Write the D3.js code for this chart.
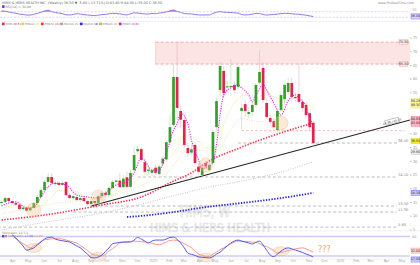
<!DOCTYPE html>
<html>
<head>
<meta charset="utf-8">
<script src="https://cdn.jsdelivr.net/npm/d3@7"></script>
<style>
  body { margin: 0; background: #fff; }
  svg { display: block; font-family: "DejaVu Sans", sans-serif; }
</style>
</head>
<body>
<script>
// weekly candles, first week starts 11 Mar 2024
const firstWeek = new Date(2024, 2, 11);
const opens = [14.6,15.0,16.4,15.3,14.6,14.0,12.4,12.9,11.9,12.8,
  14.6,16.8,19.3,22.3,24.1,21.5,21.9,21.2,22.3,17.5,
  16.4,16.8,15.7,16.4,15.3,14.2,15.3,14.6,17.1,18.3,
  17.5,20.1,22.3,22.8,20.4,24.0,20.5,26.6,33.5,34.3,
  29.5,26.3,25.6,27.5,25.2,29.0,30.5,36.8,43.1,60.6,
  48.2,44.9,34.7,33.0,35.8,27.9,24.8,29.2,26.6,29.2,
  42.3,55.8,62.8,56.8,56.9,57.7,57.0,48.2,50.7,47.1,
  47.8,50.4,58.5,63.9,51.1,45.6,44.5,41.2,48.5,52.5,
  55.1,58.4,53.3,54.4,51.5,50.4,47.4,43.8];
const highs = [15.6,17.0,16.9,15.8,15.2,14.5,13.4,13.3,13.2,15.0,
  17.5,20.0,23.0,25.6,25.5,22.8,22.6,22.6,22.8,18.2,
  17.8,17.5,17.0,16.9,15.8,15.9,15.8,17.6,18.9,19.0,
  20.8,23.0,23.2,25.6,24.8,26.0,26.5,35.0,35.5,35.0,
  30.3,28.0,27.5,28.5,28.6,31.5,37.5,46.7,65.0,73.0,
  50.0,46.0,36.5,36.0,37.0,29.0,28.2,30.0,29.5,41.5,
  53.0,66.1,64.5,59.0,67.2,59.0,65.0,51.0,52.0,49.5,
  51.5,58.5,70.4,66.0,52.5,47.0,45.5,49.0,55.0,58.5,
  60.2,60.5,55.0,65.4,52.5,51.5,48.0,44.5];
const lows = [14.0,14.6,14.8,14.2,13.5,12.0,11.9,11.3,11.5,12.5,
  14.3,16.5,19.0,21.5,21.2,20.8,20.6,20.8,17.0,16.0,
  15.8,15.2,15.0,14.8,13.6,13.4,13.8,14.2,16.7,17.0,
  17.2,19.6,21.0,20.0,20.0,19.5,20.0,26.0,32.5,29.5,
  25.0,25.2,24.5,24.8,24.5,28.2,30.0,36.0,42.5,44.9,
  42.0,34.5,31.5,32.0,28.5,25.0,24.0,27.0,26.0,28.5,
  41.0,53.5,53.0,55.0,56.0,54.5,56.0,41.5,46.0,45.5,
  46.5,49.5,57.5,51.0,45.0,43.0,41.5,40.5,48.0,50.5,
  54.0,52.0,51.5,50.5,48.0,45.5,41.0,35.0];
const closes = [15.0,16.4,15.3,14.6,14.0,12.4,12.9,11.8,12.8,14.6,
  16.8,19.3,22.3,24.1,21.9,21.9,21.2,21.9,17.5,16.4,
  17.1,15.7,16.4,15.3,14.2,15.3,14.6,17.1,18.3,17.5,
  20.1,22.3,22.8,20.4,23.5,20.5,25.6,32.1,34.3,30.3,
  26.0,26.8,26.6,25.6,27.9,30.8,36.8,42.3,60.6,49.3,
  45.0,35.8,32.8,34.2,29.2,26.0,27.5,27.9,28.5,40.5,
  51.8,64.6,54.7,57.2,57.3,55.8,64.2,49.3,48.2,47.8,
  50.4,57.7,62.4,52.2,46.0,44.2,42.3,48.2,54.0,57.7,
  58.4,53.3,52.9,51.5,49.3,46.7,42.3,36.5];

// moving averages (week index, price)
const fastWeeks = [0,2,4,7,9,11,13,15,18,21,24,27,29,32,35,37,39,40,42,44,46,48,49,50,52,53,55,56,57,59,60,61,62,64,66,67,69,70,71,73,74,76,78,80,82,83,85,86,87];
const fastVals = [13.5,14.6,15.0,12.8,13.1,16.8,20.5,21.9,21.2,17.5,16.8,16.4,18.2,21.2,22.6,25.6,31.0,30.0,26.6,26.6,32.9,41.2,43.5,47.4,43.5,37.6,30.3,27.4,27.4,29.5,36.0,46.7,54.0,56.6,57.7,56.6,54.0,51.5,54.0,57.7,55.8,51.0,46.7,52.0,54.0,52.9,49.6,45.6,43.8];
const ema10Weeks = [0,4,9,14,16,21,25,28,32,36,39,43,46,49,51,54,57,60,62,65,68,71,74,76,79,82,85,87];
const ema10Vals = [12.5,13.8,13.0,16.8,19.3,18.6,16.1,15.7,18.3,21.2,23.7,26.6,29.6,34.7,39.4,38.3,34.7,34.7,43.1,51.1,54.0,52.9,54.75,53.3,52.2,52.6,51.1,49.3];
const ema20Weeks = [0,14,24,33,41,47,51,55,60,64,67,69,73,76,79,83,87];
const ema20Vals = [10.6,14.2,16.0,18.0,22.3,26.6,33.2,33.9,33.9,41.2,45.6,44.9,44.2,46.7,48.5,49.3,48.5];
const ema50Weeks = [0,14,28,39,48,53,57,67,78,87];
const ema50Vals = [8.4,10.6,13.9,16.8,22.6,25.6,29.2,35.0,40.2,43.8];
const sma100Weeks = [0,14,28,39,48,57,67,78,87];
const sma100Vals = [4.75,8.0,10.95,14.2,17.2,20.1,22.6,25.9,29.6];
const sma200Weeks = [35,39,48,57,67,78,87];
const sma200Vals = [9.5,9.9,11.3,13.1,14.6,16.4,18.3];

// drawn objects
const trendWeeks = [25, 114];
const trendVals = [13.5, 44.9];
const zoneTop = 73.3, zoneBottom = 65.3, zoneFromWeek = 43;
const levelVals = [36.5, 24.1, 13.5, 11.3, 5.8];
const levelFromWeeks = [66, 38, 26, 20, -1];
const supportVal = 41.0, supportFromWeek = 67;
const circleWeeks = [9, 27, 57, 78];
const circleVals = [12.1, 16.8, 28.5, 43.8];

// indicators
const rsi = [76,73,68,64,58,53,50,46,46,52,58,66,75,81,70,65,60,56,48,47,
  50,56,53,49,46,44,42,45,49,51,55,58,57,55,50,47,55,62,60,57,
  54,54,57,56,60,64,68,76,82,72,64,57,55,54,50,47,46,47,47,58,
  66,70,67,65,65,62,60,50,47,48,52,58,57,50,46,48,50,53,56,58,
  58,55,53,52,48,45,40,36];
const stochStart = 3;
const stochK = [85,75,63,51,38,41,45,54,63,72,77,78,72,69,67,65,63,57,51,45,
  35,26,15,14,17,23,34,45,58,60,62,63,63,63,69,77,72,66,60,66,
  69,69,69,72,77,78,71,60,45,29,25,22,17,16,15,14,18,26,32,42,
  51,60,66,69,66,63,60,57,62,66,54,38,23,18,26,35,42,45,42,38,
  35,31,26,22,17];
const stochD = [82,74,66,58,51,45,51,57,65,70,71,73,74,75,72,69,66,63,60,52,
  45,37,28,23,22,20,26,35,43,51,60,62,63,65,66,65,64,63,62,59,
  56,55,58,63,68,69,68,64,58,52,45,35,26,22,18,18,26,32,40,45,
  52,58,63,66,65,65,64,63,62,58,52,49,43,37,29,31,34,37,39,42,
  44,45,42,37,32];

const legendNames = ["HIMS", "EMA10", "EMA50", "MA100", "MA200", "EMA20", "EMA5"];
const legendValues = ["36.50", "49.30", "43.80", "29.60", "18.30", "48.50", "43.80"];
const priceTicks = [5, 10, 15, 20, 25, 30, 35, 40, 55, 60, 65, 70, 75];

const W = 420, H = 265;
const svg = d3.select("body").append("svg").attr("width", W).attr("height", H);

const weekDate = i => new Date(firstWeek.getTime() + i * 7 * 864e5);
const x = d3.scaleTime().domain([new Date(2024, 2, 8), new Date(2026, 4, 18)]).range([0, 410]);
const xw = i => x(weekDate(i));
const y = d3.scaleLinear().domain([0, 80]).range([243.02, 23.8]);
const yR = d3.scaleLinear().domain([30, 70]).range([17.3, 11.7]);
const yS = d3.scaleLinear().domain([20, 80]).range([256, 236.5]);

svg.append("clipPath").attr("id", "pclip")
  .append("rect").attr("x", 0).attr("y", 26).attr("width", 410).attr("height", 204);

//watermark
svg.append("text").text("HIMS, W")
  .attr("x", 205).attr("y", 216.5).attr("text-anchor", "middle")
  .attr("textLength", 50).attr("lengthAdjust", "spacingAndGlyphs")
  .style("font-size", "15px").attr("fill", "#f1f1f1").attr("stroke", "#dcdcdc").attr("stroke-width", 0.5);
svg.append("text").text("HIMS & HERS HEALTH")
  .attr("x", 210).attr("y", 231.5).attr("text-anchor", "middle")
  .attr("textLength", 120).attr("lengthAdjust", "spacingAndGlyphs")
  .style("font-size", "12.5px").attr("fill", "#f1f1f1").attr("stroke", "#dcdcdc").attr("stroke-width", 0.5);

const price = svg.append("g").attr("clip-path", "url(#pclip)");

//resistance zone
price.append("rect")
  .attr("x", xw(zoneFromWeek)).attr("y", y(zoneTop))
  .attr("width", 410 - xw(zoneFromWeek)).attr("height", y(zoneBottom) - y(zoneTop))
  .attr("fill", "#fde4e4");
[zoneTop, zoneBottom].forEach(v => {
  price.append("line")
    .attr("x1", xw(zoneFromWeek)).attr("x2", 410).attr("y1", y(v)).attr("y2", y(v))
    .attr("stroke", "#f08a8a").attr("stroke-width", 0.7).attr("stroke-dasharray", "3,2");
});
price.append("line")
  .attr("x1", xw(zoneFromWeek)).attr("x2", xw(zoneFromWeek)).attr("y1", y(zoneTop)).attr("y2", y(zoneBottom))
  .attr("stroke", "#f6b8b8").attr("stroke-width", 0.5);

//horizontal levels
levelVals.forEach((v, k) => {
  price.append("line")
    .attr("x1", xw(levelFromWeeks[k])).attr("x2", 397).attr("y1", y(v)).attr("y2", y(v))
    .attr("stroke", "#a0a0a0").attr("stroke-width", 0.7).attr("stroke-dasharray", "3,2.2");
  svg.append("text").text(v.toFixed(2))
    .attr("x", 398).attr("y", y(v) - 0.8)
    .style("font-size", "3.6px").attr("fill", "#888");
});
price.append("line")
  .attr("x1", xw(supportFromWeek)).attr("x2", 405).attr("y1", y(supportVal)).attr("y2", y(supportVal))
  .attr("stroke", "#f4a0a8").attr("stroke-width", 0.7).attr("stroke-dasharray", "2.5,2");

//moving averages
const maLine = (weeks, vals) => d3.line().curve(d3.curveMonotoneX)(weeks.map((w, k) => [xw(w), y(vals[k])]));
price.append("path").attr("d", maLine(sma100Weeks, sma100Vals))
  .attr("fill", "none").attr("stroke", "#b8b8b8").attr("stroke-width", 0.8).attr("stroke-dasharray", "1,1.4");
price.append("path").attr("d", maLine(ema20Weeks, ema20Vals))
  .attr("fill", "none").attr("stroke", "#e2dca0").attr("stroke-width", 0.8).attr("stroke-dasharray", "1,1.4");
price.append("path").attr("d", maLine(ema10Weeks, ema10Vals))
  .attr("fill", "none").attr("stroke", "#ece67e").attr("stroke-width", 0.9).attr("stroke-dasharray", "1,1.3");
price.append("path").attr("d", maLine(sma200Weeks, sma200Vals))
  .attr("fill", "none").attr("stroke", "#2a2ad6").attr("stroke-width", 1.8).attr("stroke-dasharray", "1.4,1.4");
price.append("path").attr("d", maLine(ema50Weeks, ema50Vals))
  .attr("fill", "none").attr("stroke", "#f2304a").attr("stroke-width", 1.6).attr("stroke-dasharray", "1.4,1.4");

//trend line
price.append("path")
  .attr("d", d3.line()(trendWeeks.map((w, k) => [xw(w), y(trendVals[k])])))
  .attr("fill", "none").attr("stroke", "#222").attr("stroke-width", 1.1);

//candles
closes.forEach((c, i) => {
  const o = opens[i];
  const up = c >= o;
  price.append("line")
    .attr("x1", xw(i)).attr("x2", xw(i)).attr("y1", y(highs[i])).attr("y2", y(lows[i]))
    .attr("stroke", up ? "#b9d2b2" : "#e2b6be").attr("stroke-width", 0.6);
  price.append("rect")
    .attr("x", xw(i) - 1.35).attr("width", 2.7)
    .attr("y", y(Math.max(o, c)))
    .attr("height", Math.max(0.7, Math.abs(y(o) - y(c))))
    .attr("fill", up ? "#35a02a" : "#e3234e");
});

//fast ema over candles
price.append("path").attr("d", maLine(fastWeeks, fastVals))
  .attr("fill", "none").attr("stroke", "#d81fd8").attr("stroke-width", 1.1).attr("stroke-dasharray", "1.1,1.3");

//highlight circles
circleWeeks.forEach((w, k) => {
  price.append("circle")
    .attr("cx", xw(w)).attr("cy", y(circleVals[k])).attr("r", 7)
    .attr("fill", "#f7c08e").attr("fill-opacity", 0.35)
    .attr("stroke", "#f3a96a").attr("stroke-opacity", 0.5).attr("stroke-width", 0.6);
});

//price axis
const yAxis = svg.append("g").attr("transform", "translate(410,0)")
  .call(d3.axisRight(y).tickValues(priceTicks).tickSize(1.5).tickFormat(d3.format("d")));
yAxis.select(".domain").remove();
yAxis.selectAll("line").attr("stroke", "#bbb");
yAxis.selectAll("text").style("font-size", "3.8px").attr("fill", "#999").attr("x", 3);

//right side value tags
function tag(lines, yy, bg, fg, xx) {
  const h = 4.4 * lines.length + 0.8;
  const g = svg.append("g").attr("transform", `translate(${xx || 411},${yy})`);
  g.append("rect").attr("x", 0).attr("y", -h / 2).attr("width", 9).attr("height", h)
    .attr("fill", bg).attr("stroke", fg).attr("stroke-width", 0.3);
  const t = g.append("text").attr("text-anchor", "middle").style("font-size", "3.4px").attr("fill", "#333");
  lines.forEach((s, k) => {
    t.append("tspan").text(s).attr("x", 4.5).attr("y", -h / 2 + 3.5 + k * 4.4);
  });
}
tag([zoneTop.toFixed(2)], y(zoneTop), "#fde4e4", "#f08a8a", 399);
tag([zoneBottom.toFixed(2)], y(zoneBottom), "#fde4e4", "#f08a8a", 399);
tag(["50.26", ema10Vals[ema10Vals.length - 1].toFixed(2)], y(51), "#f7f29a", "#d8d060");
tag(["44.90", fastVals[fastVals.length - 1].toFixed(2)], y(44.4), "#f9b4c4", "#e3234e");
tag([closes[closes.length - 1].toFixed(2)], y(closes[closes.length - 1]) - 2, "#f2ea30", "#c8b800");
tag([sma100Vals[sma100Vals.length - 1].toFixed(2)], y(33.2), "#eeeeee", "#aaa");
tag([sma200Vals[sma200Vals.length - 1].toFixed(2)], y(sma200Vals[sma200Vals.length - 1]), "#c9c9fb", "#2a2ad6");

//trend line tag
const ang = Math.atan2(y(trendVals[1]) - y(trendVals[0]), xw(trendWeeks[1]) - xw(trendWeeks[0])) * 180 / Math.PI;
const tg = svg.append("g").attr("transform", `translate(${xw(109)},${y(43.3) - 3}) rotate(${ang})`);
tg.append("rect").attr("x", -7).attr("y", -2.4).attr("width", 14).attr("height", 4.6)
  .attr("fill", "#fff").attr("stroke", "#777").attr("stroke-width", 0.4);
tg.append("text").text("44.88 / 45.10").attr("text-anchor", "middle").attr("y", 1.2)
  .style("font-size", "2.8px").attr("fill", "#444");

//top title
svg.append("text").text("HIMS & HERS HEALTH INC. (Weekly) 36.50 ▼ -5.80 (-13.71%) O:43.80 H:44.50 L:35.00 C:36.50")
  .attr("x", 2).attr("y", 3.6).style("font-size", "3.4px").attr("fill", "#666");
svg.append("text").text("www.ProRealTime.com")
  .attr("x", 414).attr("y", 3.6).attr("text-anchor", "end").style("font-size", "3.2px").attr("fill", "#888");

//RSI panel
svg.append("rect").attr("x", 2).attr("y", 5.3).attr("width", 2.6).attr("height", 2.6).attr("fill", "#6a3ad0");
svg.append("text").text("RSI[14] = 36.00").attr("x", 5.5).attr("y", 7.6)
  .style("font-size", "3.2px").attr("fill", "#777");
[70, 30].forEach(v => {
  svg.append("line").attr("x1", 0).attr("x2", 410).attr("y1", yR(v)).attr("y2", yR(v))
    .attr("stroke", "#c6baf2").attr("stroke-width", 0.6).attr("stroke-dasharray", "2,1.5");
});
svg.append("text").text("70").attr("x", 412).attr("y", yR(70) - 1)
  .style("font-size", "3.4px").attr("fill", "#999");
svg.append("path")
  .attr("d", d3.area().x((d, i) => xw(i)).y0(yR(70)).y1(d => yR(Math.max(d, 70))).curve(d3.curveMonotoneX)(rsi))
  .attr("fill", "#f0506e").attr("opacity", 0.8);
svg.append("path")
  .attr("d", d3.line().x((d, i) => xw(i)).y(d => yR(d)).curve(d3.curveMonotoneX)(rsi))
  .attr("fill", "none").attr("stroke", "#9478ee").attr("stroke-width", 1);
tag([rsi[rsi.length - 1].toFixed(2)], yR(rsi[rsi.length - 1]), "#d9ccff", "#6a3ad0");
svg.append("line").attr("x1", 0).attr("x2", W).attr("y1", 21.5).attr("y2", 21.5).attr("stroke", "#e4e4e4").attr("stroke-width", 0.5);

//legend row
const legendColors = ["#e3234e", "#e6d92a", "#f2304a", "#a8a8a8", "#2a2ad6", "#c8c03a", "#d81fd8"];
legendNames.forEach((n, k) => {
  const lx = 2 + k * 19.5;
  svg.append("rect").attr("x", lx).attr("y", 22.6).attr("width", 2.6).attr("height", 2.6).attr("fill", legendColors[k]);
  svg.append("text").attr("x", lx + 3.4).attr("y", 25).style("font-size", "2.8px")
    .call(t => {
      t.append("tspan").text(n + " ").attr("fill", "#888");
      t.append("tspan").text(legendValues[k]).attr("fill", legendColors[k]);
    });
});

//stochastic panel
svg.append("line").attr("x1", 0).attr("x2", W).attr("y1", 230.8).attr("y2", 230.8).attr("stroke", "#e0e0e0").attr("stroke-width", 0.5);
svg.append("text").text("Stochastic 14,3,3").attr("x", 2).attr("y", 234.2)
  .style("font-size", "3px").attr("fill", "#888");
[80, 20].forEach(v => {
  svg.append("line").attr("x1", 0).attr("x2", 410).attr("y1", yS(v)).attr("y2", yS(v))
    .attr("stroke", "#cdcdf3").attr("stroke-width", 1.6);
});
svg.append("text").text("80").attr("x", 412).attr("y", yS(80) + 1.2)
  .style("font-size", "3.4px").attr("fill", "#999");
svg.append("rect").attr("x", 2).attr("y", 235).attr("width", 2.4).attr("height", 2.4).attr("fill", "#4848e6");
svg.append("rect").attr("x", 4.6).attr("y", 235).attr("width", 2.4).attr("height", 2.4).attr("fill", "#f08080");
svg.append("text").attr("x", 8).attr("y", 237.2).style("font-size", "3px")
  .call(t => {
    t.append("tspan").text("Stochastic ").attr("fill", "#888");
    t.append("tspan").text(stochK[stochK.length - 1].toFixed(2) + " ").attr("fill", "#4848e6");
    t.append("tspan").text(stochD[stochD.length - 1].toFixed(2)).attr("fill", "#f08080");
  });
circleWeeks.forEach(w => {
  svg.append("ellipse")
    .attr("cx", xw(w)).attr("cy", yS(stochK[w - stochStart])).attr("rx", 8).attr("ry", 4.5)
    .attr("fill", "#f7c08e").attr("fill-opacity", 0.35)
    .attr("stroke", "#f3a96a").attr("stroke-opacity", 0.5).attr("stroke-width", 0.6);
});
svg.append("path")
  .attr("d", d3.line().x((d, k) => xw(k + stochStart)).y(d => yS(d)).curve(d3.curveMonotoneX)(stochD))
  .attr("fill", "none").attr("stroke", "#f29a94").attr("stroke-width", 1);
svg.append("path")
  .attr("d", d3.line().x((d, k) => xw(k + stochStart)).y(d => yS(d)).curve(d3.curveMonotoneX)(stochK))
  .attr("fill", "none").attr("stroke", "#5656ea").attr("stroke-width", 1);
tag([stochD[stochD.length - 1].toFixed(2)], yS(stochD[stochD.length - 1]) - 1.5, "#fbd0d0", "#f08080");
tag([stochK[stochK.length - 1].toFixed(2)], yS(stochK[stochK.length - 1]) + 2.5, "#c9c9fb", "#4848e6");
svg.append("text").text("???").attr("x", 318).attr("y", 252)
  .style("font-size", "8px").attr("fill", "#f5a55a");

//time axis
const xAxis = svg.append("g").attr("transform", "translate(0,258.6)")
  .call(d3.axisBottom(x).ticks(d3.timeMonth.every(1)).tickSize(0)
    .tickFormat(d => d.getMonth() === 0 ? d3.timeFormat("%Y")(d) : d3.timeFormat("%b")(d)));
xAxis.select(".domain").attr("stroke", "#e0e0e0").attr("stroke-width", 0.5);
xAxis.selectAll("text").style("font-size", "3.6px").attr("fill", "#aaa").attr("dy", "0.75em").attr("y", 1.2);
</script>
</body>
</html>
